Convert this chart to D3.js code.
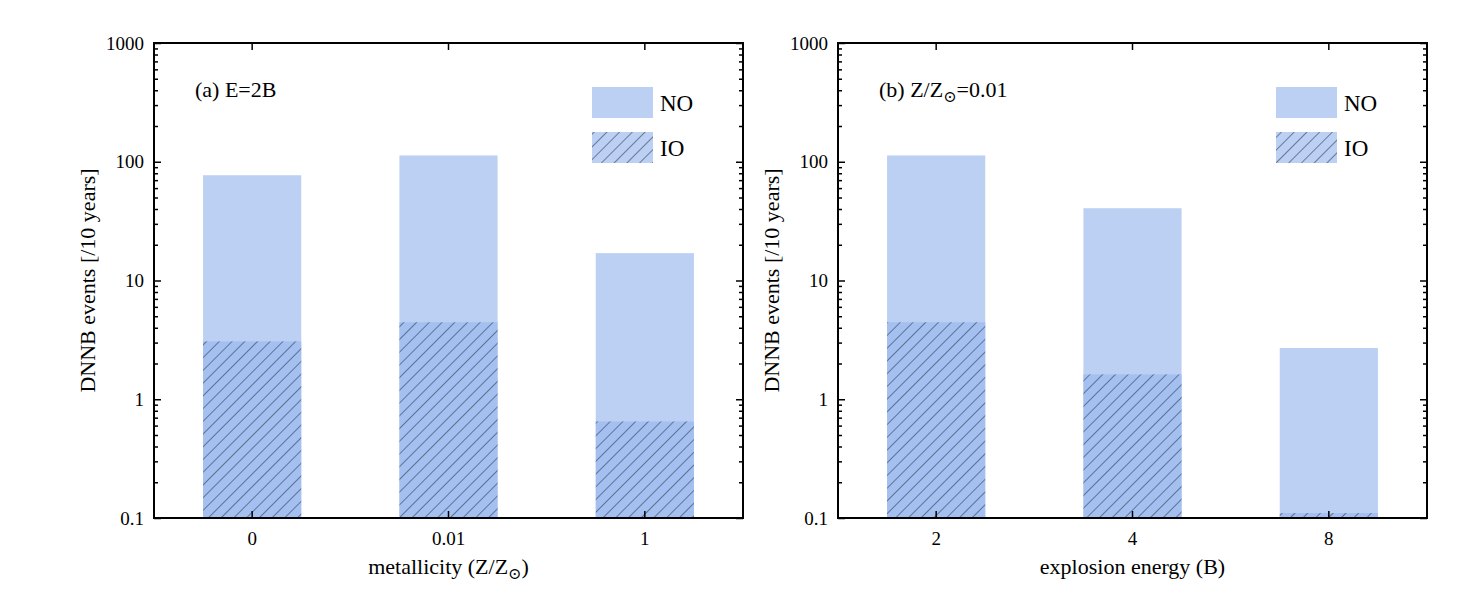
<!DOCTYPE html>
<html>
<head>
<meta charset="utf-8">
<script src="https://cdn.jsdelivr.net/npm/d3@7"></script>
<style>
  body { margin: 0; background: #fff; }
  svg text { font-family: 'Liberation Serif', 'Times New Roman', Times, 'DejaVu Serif', serif !important; fill: #000; }
</style>
</head>
<body>
<div id="chart"></div>
<script>
// Data
var metalCategories = ["0", "0.01", "1"];
var metalNO = [77, 113, 17];
var metalIO = [3.07, 4.45, 0.65];

var energyCategories = ["2", "4", "8"];
var energyNO = [113, 40.6, 2.7];
var energyIO = [4.45, 1.62, 0.11];

var yTicks = [0.1, 1, 10, 100, 1000];

var svgWidth = 1476, svgHeight = 593;
var noColor = "#bcd0f4", ioColor = "#a4c0f0";
var serif = "'Liberation Serif', 'Times New Roman', Times, 'DejaVu Serif', serif";

var svg = d3.select("#chart").append("svg")
  .attr("width", svgWidth)
  .attr("height", svgHeight)
  .attr("font-family", serif);

// hatch patterns
var defs = svg.append("defs");
function hatch(id, bg) {
  var p = defs.append("pattern")
    .attr("id", id)
    .attr("patternUnits", "userSpaceOnUse")
    .attr("width", 9).attr("height", 9)
    .attr("patternTransform", "rotate(45)");
  p.append("rect").attr("width", 9).attr("height", 9).attr("fill", bg);
  p.append("line").attr("x1", 0).attr("y1", 0).attr("x2", 0).attr("y2", 9)
    .attr("stroke", "#263048").attr("stroke-width", 1.1);
}
hatch("hatchBar", ioColor);
hatch("hatchLeg", noColor);

function panel(x0, x1, cats, no, io, label, xlabel) {
  var top = 43, bottom = 518;
  var x = d3.scaleBand().domain(cats).range([x0, x1])
    .paddingInner(0.5).paddingOuter(0.25);
  var y = d3.scaleLog().domain([0.1, 1000]).range([bottom, top]);
  var g = svg.append("g");

  g.selectAll(".no").data(cats).enter().append("rect")
    .attr("x", d => x(d)).attr("width", x.bandwidth())
    .attr("y", (d, i) => y(no[i])).attr("height", (d, i) => bottom - y(no[i]))
    .attr("fill", noColor);
  g.selectAll(".io").data(cats).enter().append("rect")
    .attr("x", d => x(d)).attr("width", x.bandwidth())
    .attr("y", (d, i) => y(io[i])).attr("height", (d, i) => bottom - y(io[i]))
    .attr("fill", "url(#hatchBar)");

  // minor ticks for log axis
  var minor = [];
  for (var e = -1; e < 3; e++) for (var k = 2; k < 10; k++) minor.push(k * Math.pow(10, e));

  var left = d3.axisLeft(y).tickValues(yTicks).tickSize(-7).tickPadding(10)
    .tickFormat(d => d < 1 ? "0.1" : d3.format("d")(d));
  var ga = g.append("g").attr("transform", `translate(${x0},0)`).call(left);
  ga.select(".domain").remove();
  ga.selectAll("text").style("font-size", "19px");
  g.append("g").attr("transform", `translate(${x0},0)`)
    .call(d3.axisLeft(y).tickValues(minor).tickSize(-4).tickFormat(""))
    .select(".domain").remove();
  g.append("g").attr("transform", `translate(${x1},0)`)
    .call(d3.axisRight(y).tickValues(yTicks).tickSize(-7).tickFormat(""))
    .select(".domain").remove();
  g.append("g").attr("transform", `translate(${x1},0)`)
    .call(d3.axisRight(y).tickValues(minor).tickSize(-4).tickFormat(""))
    .select(".domain").remove();

  var gb = g.append("g").attr("transform", `translate(0,${bottom})`)
    .call(d3.axisBottom(x).tickSize(-7).tickPadding(14));
  gb.select(".domain").remove();
  gb.selectAll("text").style("font-size", "19px");
  g.append("g").attr("transform", `translate(0,${top})`)
    .call(d3.axisTop(x).tickSize(-7).tickFormat(""))
    .select(".domain").remove();
  g.selectAll("g").attr("font-family", serif);
  g.selectAll(".tick line").attr("stroke", "#000").attr("stroke-width", 1.5);

  g.append("rect").attr("x", x0).attr("y", top)
    .attr("width", x1 - x0).attr("height", bottom - top)
    .attr("fill", "none").attr("stroke", "#000").attr("stroke-width", 2);

  // panel label
  label(g.append("text").attr("x", x0 + 41).attr("y", 97).style("font-size", "22px"));

  // legend
  var lx = x1 - 151;
  g.append("rect").attr("x", lx).attr("y", 87).attr("width", 61).attr("height", 31).attr("fill", noColor);
  g.append("rect").attr("x", lx).attr("y", 132).attr("width", 61).attr("height", 31).attr("fill", "url(#hatchLeg)");
  g.append("text").attr("x", lx + 68).attr("y", 111).style("font-size", "23px").text("NO");
  g.append("text").attr("x", lx + 68).attr("y", 156).style("font-size", "23px").text("IO");

  // axis labels
  g.append("text")
    .attr("transform", `translate(${x0 - 59},${(top + bottom) / 2}) rotate(-90)`)
    .attr("text-anchor", "middle").style("font-size", "22px")
    .text("DNNB events [/10 years]");
  xlabel(g.append("text").attr("x", (x0 + x1) / 2).attr("y", 574)
    .attr("text-anchor", "middle").style("font-size", "22px"));
}

panel(154, 743, metalCategories, metalNO, metalIO,
  t => t.text("(a) E=2B"),
  t => { t.append("tspan").text("metallicity (Z/Z");
         t.append("tspan").attr("dy", 5).style("font-size", "16px").text("\u2299");
         t.append("tspan").attr("dy", -5).text(")"); });

panel(838, 1427, energyCategories, energyNO, energyIO,
  t => { t.append("tspan").text("(b) Z/Z");
         t.append("tspan").attr("dy", 5).style("font-size", "16px").text("\u2299");
         t.append("tspan").attr("dy", -5).text("=0.01"); },
  t => t.text("explosion energy (B)"));
</script>
</body>
</html>
